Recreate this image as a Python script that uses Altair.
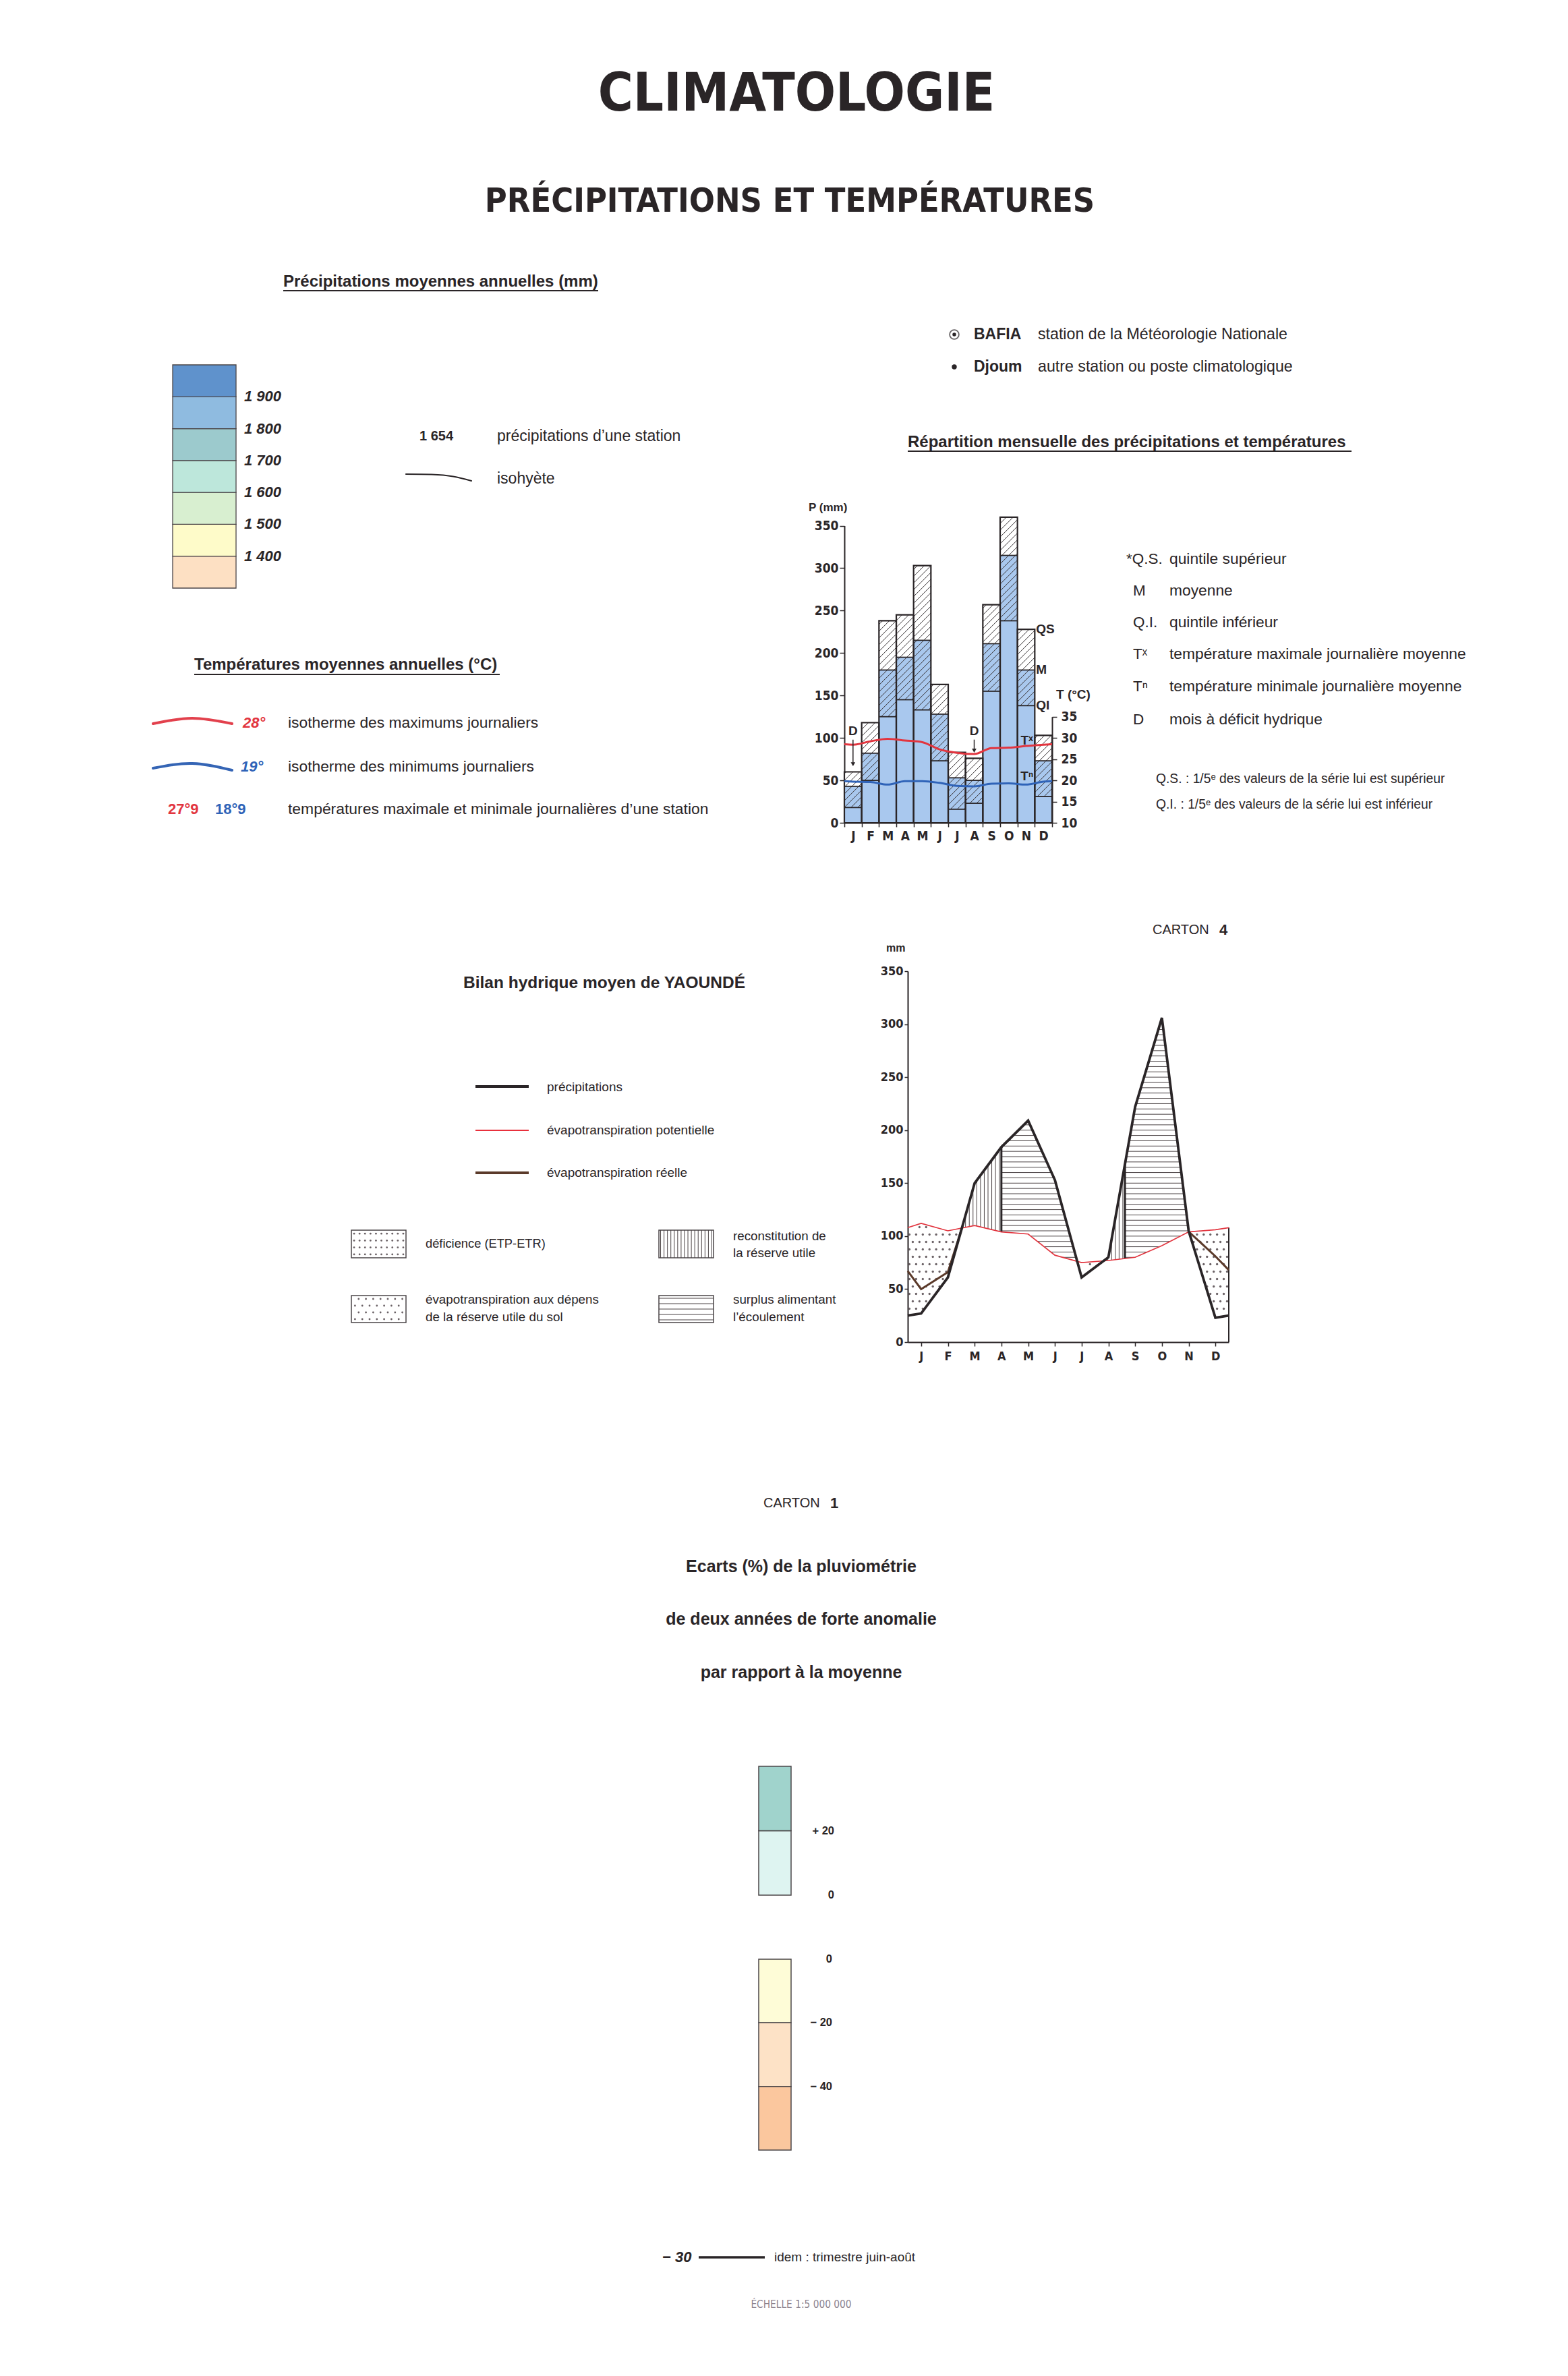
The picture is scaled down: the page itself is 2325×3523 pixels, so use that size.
import math
import numpy as np
import pandas as pd
import altair as alt

# ===================== DATA =====================
MONTHS = list(range(1, 13))
MONTH_LETTERS = ["J", "F", "M", "A", "M", "J", "J", "A", "S", "O", "N", "D"]

# Monthly precipitation distribution (mm): upper quintile, mean, lower quintile
P_QS = [60, 118, 238, 245, 303, 163, 83, 76, 257, 360, 228, 103]
P_MEAN = [43, 82, 180, 195, 215, 128, 53, 50, 211, 315, 180, 73]
P_QI = [18, 50, 125, 145, 133, 73, 16, 23, 155, 238, 138, 31]
# mean daily maximum / minimum temperature (deg C)
T_MAX = [28.4, 29.2, 29.8, 29.4, 29.0, 27.3, 26.5, 26.2, 27.6, 27.7, 28.1, 28.4]
T_MIN = [19.7, 19.6, 19.0, 19.8, 19.8, 19.4, 18.7, 18.6, 19.2, 19.3, 19.0, 19.7]
T_MAX_EDGES = [28.5, 28.5]
T_MIN_EDGES = [19.8, 19.8]
DEFICIT_MONTHS = [1, 8]

# Water balance of Yaounde (mm)
YAO_P = [27, 61, 150, 184, 209, 153, 61, 80, 222, 306, 105, 23]
YAO_ETP = [112, 105, 110, 104, 102, 82, 75, 77, 80, 91, 104, 106]
YAO_P_EDGES = [25, 25]
YAO_ETP_EDGES = [108, 108]
YAO_ETR_MONTHS = [1, 2, 12]
YAO_ETR = [50, 66, 81]
YAO_ETR_EDGES = [67, 68]
YAO_RESERVE_FULL = [4.0, 8.62]

# Colour legends
PRECIP_BOUNDS = [1400, 1500, 1600, 1700, 1800, 1900]
PRECIP_LABELS = ["1 400", "1 500", "1 600", "1 700", "1 800", "1 900"]
PRECIP_COLORS = ["#fde0c3", "#fefbc9", "#d8efd0", "#bde7db", "#9ccacd", "#8fbbe0", "#5f92cc"]
DEV_POS_BOUNDS = [0, 20]
DEV_POS_LABELS = ["0", "+ 20"]
DEV_POS_COLORS = ["#def4f1", "#a0d3cc"]
DEV_NEG_BOUNDS = [0, -20, -40]
DEV_NEG_LABELS = ["0", "\u2212 20", "\u2212 40"]
DEV_NEG_COLORS = ["#fefcd7", "#fde2c6", "#fbc79e"]

# Texts
TITLE = "CLIMATOLOGIE"
SUBTITLE = "PRÉCIPITATIONS ET TEMPÉRATURES"
HEAD_PRECIP = "Précipitations moyennes annuelles (mm)"
HEAD_TEMP = "Températures moyennes annuelles (°C)"
HEAD_MONTHLY = "Répartition mensuelle des précipitations et températures"
STATION_VALUE = "1 654"
STATION_VALUE_TXT = "précipitations d\u2019une station"
ISOHYET_TXT = "isohyète"
ISOTHERM_VALUES = ["28°", "19°"]
ISOTHERM_TXT = ["isotherme des maximums journaliers", "isotherme des minimums journaliers"]
STATION_TEMPS = ["27°9", "18°9"]
STATION_TEMPS_TXT = "températures maximale et minimale journalières d\u2019une station"
STATION_NAMES = ["BAFIA", "Djoum"]
STATION_TXT = ["station de la Météorologie Nationale", "autre station ou poste climatologique"]
ABBREV = ["*Q.S.", "M", "Q.I.", "T\u02e3", "T\u207f", "D"]
ABBREV_TXT = ["quintile supérieur", "moyenne", "quintile inférieur",
              "température maximale journalière moyenne",
              "température minimale journalière moyenne", "mois à déficit hydrique"]
NOTES = ["Q.S. : 1/5\u1d49 des valeurs de la série lui est supérieur",
         "Q.I. : 1/5\u1d49 des valeurs de la série lui est inférieur"]
BAR_LABELS = ["QS", "M", "QI"]
T_LABELS = ["T\u02e3", "T\u207f"]
AXIS_P = "P (mm)"
AXIS_T = "T (°C)"
CARTON = "CARTON"
CARTON_NUMS = ["4", "1"]
BILAN_TITLE = "Bilan hydrique moyen de YAOUNDÉ"
BILAN_LINES = ["précipitations", "évapotranspiration potentielle", "évapotranspiration réelle"]
BILAN_BOXES = [["déficience (ETP-ETR)"], ["évapotranspiration aux dépens", "de la réserve utile du sol"],
               ["reconstitution de", "la réserve utile"], ["surplus alimentant", "l\u2019écoulement"]]
MM = "mm"
CARTON1_TITLE = ["Ecarts (%) de la pluviométrie", "de deux années de forte anomalie", "par rapport à la moyenne"]
ISO30_VALUE = "\u2212 30"
ISO30_TXT = "idem : trimestre juin-août"
SCALE_TXT = "ÉCHELLE 1:5 000 000"

# ===================== LAYOUT / STYLE =====================
W, H = 2309, 3507
SANS = "Liberation Sans, Arial, Helvetica, sans-serif"
NARROW = "Liberation Sans Narrow, DejaVu Sans Condensed, Liberation Sans, sans-serif"
INK = "#2a2527"
RED = "#e2353f"
BLUE = "#2f63b8"
BAR_BLUE = "#a9c8ee"
HATCH = "#3a3537"


def cx(v):
    return v - 8


def cy(v):
    return v - 8


layers = []


def text(s, x, y, size, weight="normal", color=INK, align="left", font=SANS, style="normal"):
    layers.append(alt.Chart(alt.Data(values=[{"t": s}])).mark_text(
        font=font, fontSize=size, fontWeight=weight, fontStyle=style, color=color,
        align=align, baseline="middle").encode(
        x=alt.value(cx(x)), y=alt.value(cy(y)), text=alt.Text("t:N")))


def rule(x1, y1, x2, y2, color=INK, width=2.0):
    layers.append(alt.Chart(alt.Data(values=[{"k": 0}])).mark_rule(color=color, strokeWidth=width).encode(
        x=alt.value(cx(x1)), y=alt.value(cy(y1)), x2=alt.value(cx(x2)), y2=alt.value(cy(y2))))


def glyph(xs, ys, color, width):
    df = pd.DataFrame({"x": [cx(v) for v in xs], "y": [cy(v) for v in ys], "o": list(range(len(xs)))})
    layers.append(alt.Chart(df).mark_line(color=color, strokeWidth=width, interpolate="natural",
                                          strokeCap="round").encode(
        x=alt.X("x:Q", scale=None, axis=None), y=alt.Y("y:Q", scale=None, axis=None), order="o:Q"))


def lin(domain, rng):
    return alt.Scale(domain=list(domain), range=list(rng), nice=False, zero=False)


def axis(orient, offset, values, labels=True, ticks=True, domain=True, label_expr=None,
         size=18, tick_size=7, pad=3, font=NARROW):
    kw = dict(orient=orient, offset=offset, values=values, labels=labels, ticks=ticks, domain=domain,
              tickSize=tick_size, labelPadding=pad, labelFont=font, labelFontSize=size,
              labelFontWeight="bold", labelColor=INK, domainColor=INK, tickColor=INK,
              domainWidth=2, tickWidth=1.5, grid=False, title=None, labelFlush=False,
              labelOverlap=False, labelBound=False)
    if label_expr:
        kw["labelExpr"] = label_expr
    return alt.Axis(**kw)


month_expr = "[" + ",".join("'%s'" % l for l in MONTH_LETTERS) + "][round(datum.value)-1]"

# ===================== TITLES =====================
text(TITLE, 1181, 140, 79, "bold", font=NARROW, align="center")
text(SUBTITLE, 1171, 299, 50, "bold", font=NARROW, align="center")

# ===================== LEFT: annual precipitation legend =====================
text(HEAD_PRECIP, 420, 418, 24, "bold")
rule(420, 431, 887, 431, INK, 2)

lows = [PRECIP_BOUNDS[0] - 100] + PRECIP_BOUNDS
highs = PRECIP_BOUNDS + [PRECIP_BOUNDS[-1] + 100]
pr_df = pd.DataFrame({"lo": lows, "hi": highs, "c": PRECIP_COLORS})
pr_scale = lin([lows[0], highs[-1]], [cy(872), cy(541)])
layers.append(alt.Chart(pr_df).mark_rect(stroke="#4b4648", strokeWidth=1.3).encode(
    x=alt.value(cx(256)), x2=alt.value(cx(350)),
    y=alt.Y("hi:Q", scale=pr_scale, axis=None), y2="lo",
    fill=alt.Fill("c:N", scale=None, legend=None)))
prl_df = pd.DataFrame({"b": PRECIP_BOUNDS, "lab": PRECIP_LABELS})
layers.append(alt.Chart(prl_df).mark_text(font=SANS, fontSize=22, fontWeight="bold", fontStyle="italic",
                                          color=INK, align="left", baseline="middle").encode(
    x=alt.value(cx(362)), y=alt.Y("b:Q", scale=pr_scale, axis=None), text="lab:N"))

text(STATION_VALUE, 622, 647, 20, "bold")
text(STATION_VALUE_TXT, 737, 647, 23)
glyph([602, 640, 672, 699], [703, 703.5, 706.5, 713], INK, 2.2)
text(ISOHYET_TXT, 737, 710, 23)

# ===================== LEFT: temperature legend =====================
text(HEAD_TEMP, 288, 986, 24, "bold")
rule(288, 1000, 741, 1000, INK, 2)
glyph([227, 285, 344], [1073, 1065, 1073], "#e2404c", 4)
text(ISOTHERM_VALUES[0], 360, 1072, 22, "bold", color=RED, style="italic")
text(ISOTHERM_TXT[0], 427, 1072, 22.8)
glyph([227, 285, 344], [1139, 1132, 1142], "#3565b5", 4)
text(ISOTHERM_VALUES[1], 357, 1137, 22, "bold", color=BLUE, style="italic")
text(ISOTHERM_TXT[1], 427, 1137, 22.8)
text(STATION_TEMPS[0], 249, 1200, 22, "bold", color=RED)
text(STATION_TEMPS[1], 319, 1200, 22, "bold", color=BLUE)
text(STATION_TEMPS_TXT, 427, 1200, 22.9)

# ===================== RIGHT: stations =====================
layers.append(alt.Chart(alt.Data(values=[{"k": 0}])).mark_point(
    shape="circle", filled=False, size=190, stroke=INK, strokeWidth=1.8).encode(
    x=alt.value(cx(1415)), y=alt.value(cy(496))))
layers.append(alt.Chart(alt.Data(values=[{"k": 0}])).mark_point(
    shape="circle", filled=True, size=30, color=INK, opacity=1).encode(
    x=alt.value(cx(1415)), y=alt.value(cy(496))))
layers.append(alt.Chart(alt.Data(values=[{"k": 0}])).mark_point(
    shape="circle", filled=True, size=55, color=INK, opacity=1).encode(
    x=alt.value(cx(1415)), y=alt.value(cy(544))))
text(STATION_NAMES[0], 1444, 496, 23, "bold")
text(STATION_TXT[0], 1539, 496, 23.2)
text(STATION_NAMES[1], 1444, 544, 23, "bold")
text(STATION_TXT[1], 1539, 544, 23.2)

text(HEAD_MONTHLY, 1346, 656, 24, "bold")
rule(1346, 669, 2004, 669, INK, 2)

# ===================== MONTHLY BAR CHART =====================
BAR_L, BAR_R = 1252, 1560
BAR_Y0, BAR_Y350 = 1220, 779.5
T_TOP = BAR_Y0 - 125 * (BAR_Y0 - BAR_Y350) / 350


def bx():
    return lin([0.5, 12.5], [cx(BAR_L), cx(BAR_R)])


def by():
    return lin([0, 350], [cy(BAR_Y0), cy(BAR_Y350)])


def bt():
    return lin([10, 35], [cy(BAR_Y0), cy(T_TOP)])


bar_df = pd.DataFrame({"m": MONTHS, "qs": P_QS, "mean": P_MEAN, "qi": P_QI})
bar_df["x0"] = bar_df["m"] - 0.5
bar_df["x1"] = bar_df["m"] + 0.5
bar_df["z"] = 0.0

# hatch pattern (45 deg on screen) over the [QI, QS] part of each bar
px_m = (BAR_R - BAR_L) / 12.0
px_mm = (BAR_Y0 - BAR_Y350) / 350.0
slope = px_m / px_mm
gap = 10.0 / px_mm
hatch = []
for m, lo, hi in zip(MONTHS, P_QI, P_QS):
    a, b = m - 0.5, m + 0.5
    kmin = math.ceil((lo - slope * b) / gap)
    kmax = math.floor((hi - slope * a) / gap)
    for k in range(kmin, kmax + 1):
        c = k * gap
        xa = max(a, (lo - c) / slope)
        xb = min(b, (hi - c) / slope)
        if xb - xa > 1e-6:
            hatch.append({"x": xa, "y": c + slope * xa, "x2": xb, "y2": c + slope * xb})
hatch_df = pd.DataFrame(hatch)

layers.append(alt.Chart(bar_df).mark_rect(fill="white", strokeWidth=0).encode(
    x=alt.X("x0:Q", scale=bx(), axis=axis("bottom", cy(BAR_Y0) - H, [0.5 + i for i in range(13)],
                                          labels=False, tick_size=6)),
    x2="x1",
    y=alt.Y("qs:Q", scale=by(), axis=axis("left", -cx(BAR_L), list(range(0, 351, 50)), size=19, pad=2)),
    y2="z"))
layers.append(alt.Chart(bar_df).mark_rect(fill=BAR_BLUE, strokeWidth=0).encode(
    x=alt.X("x0:Q", scale=bx(), axis=axis("bottom", cy(BAR_Y0) - H, MONTHS, ticks=False, domain=False,
                                          label_expr=month_expr, size=19, tick_size=0, pad=10)),
    x2="x1", y=alt.Y("mean:Q", scale=by(), axis=None), y2="z"))
layers.append(alt.Chart(hatch_df).mark_rule(color=HATCH, strokeWidth=1).encode(
    x=alt.X("x:Q", scale=bx(), axis=None), y=alt.Y("y:Q", scale=by(), axis=None), x2="x2", y2="y2"))
for col in ["mean", "qi"]:
    layers.append(alt.Chart(bar_df).mark_rule(color=INK, strokeWidth=1.8).encode(
        x=alt.X("x0:Q", scale=bx(), axis=None), x2="x1", y=alt.Y(col + ":Q", scale=by(), axis=None)))
layers.append(alt.Chart(bar_df).mark_rect(fill="white", fillOpacity=0, stroke=INK, strokeWidth=2.2).encode(
    x=alt.X("x0:Q", scale=bx(), axis=None), x2="x1", y=alt.Y("qs:Q", scale=by(), axis=None), y2="z"))

t_x = [0.5] + MONTHS + [12.5]
tmax_df = pd.DataFrame({"x": t_x, "t": [T_MAX_EDGES[0]] + T_MAX + [T_MAX_EDGES[1]]})
tmin_df = pd.DataFrame({"x": t_x, "t": [T_MIN_EDGES[0]] + T_MIN + [T_MIN_EDGES[1]]})
layers.append(alt.Chart(tmax_df).mark_line(color=RED, strokeWidth=3, interpolate="monotone").encode(
    x=alt.X("x:Q", scale=bx(), axis=None),
    y=alt.Y("t:Q", scale=bt(), axis=axis("right", cx(BAR_R) - W, list(range(10, 36, 5)), size=19, pad=6))))
layers.append(alt.Chart(tmin_df).mark_line(color=BLUE, strokeWidth=3, interpolate="monotone").encode(
    x=alt.X("x:Q", scale=bx(), axis=None), y=alt.Y("t:Q", scale=bt(), axis=None)))

d_df = pd.DataFrame({"m": DEFICIT_MONTHS, "qs": [P_QS[m - 1] for m in DEFICIT_MONTHS]})
d_df["lab"] = "D"
d_df["ytxt"] = 108.0
d_df["ytop"] = 98.0
d_df["ytip"] = d_df["qs"] + 9.0
layers.append(alt.Chart(d_df).mark_text(font=SANS, fontSize=19, fontWeight="bold", color=INK,
                                        baseline="middle").encode(
    x=alt.X("m:Q", scale=bx(), axis=None), y=alt.Y("ytxt:Q", scale=by(), axis=None), text="lab:N"))
layers.append(alt.Chart(d_df).mark_rule(color=INK, strokeWidth=1.5).encode(
    x=alt.X("m:Q", scale=bx(), axis=None), y=alt.Y("ytop:Q", scale=by(), axis=None), y2="ytip"))
layers.append(alt.Chart(d_df).mark_point(shape="triangle-down", filled=True, size=45, color=INK, opacity=1).encode(
    x=alt.X("m:Q", scale=bx(), axis=None), y=alt.Y("ytip:Q", scale=by(), axis=None)))

NOV = 10
ql_df = pd.DataFrame({"lab": BAR_LABELS, "v": [P_QS[NOV], P_MEAN[NOV], P_QI[NOV]], "x": [NOV + 1.5] * 3})
layers.append(alt.Chart(ql_df).mark_text(font=SANS, fontSize=19, fontWeight="bold", color=INK,
                                         align="left", baseline="middle", dx=2).encode(
    x=alt.X("x:Q", scale=bx(), axis=None), y=alt.Y("v:Q", scale=by(), axis=None), text="lab:N"))
tl_df = pd.DataFrame({"lab": T_LABELS, "t": [29.4, 20.9], "x": [11.05, 11.05]})
layers.append(alt.Chart(tl_df).mark_text(font=SANS, fontSize=19, fontWeight="bold", color=INK,
                                         baseline="middle").encode(
    x=alt.X("x:Q", scale=bx(), axis=None), y=alt.Y("t:Q", scale=bt(), axis=None), text="lab:N"))

text(AXIS_P, 1199, 753, 17, "bold")
text(AXIS_T, 1566, 1030, 19, "bold")

# right-hand legend of the bar chart
ab_y = [829, 876, 923, 970, 1018, 1067]
for i, (ab, tx, yy) in enumerate(zip(ABBREV, ABBREV_TXT, ab_y)):
    text(ab, 1670 if i == 0 else 1680, yy, 22.5)
    text(tx, 1734, yy, 22.8)
text(NOTES[0], 1714, 1155, 19.3)
text(NOTES[1], 1714, 1193, 19.3)

# ===================== WATER BALANCE (CARTON 4) =====================
text(CARTON, 1709, 1379, 20)
text(CARTON_NUMS[0], 1808, 1379, 22, "bold")
text(MM, 1314, 1406, 16, "bold")
text(BILAN_TITLE, 896, 1458, 24.5, "bold", align="center")

YAO_L, YAO_R = 1346, 1822
YAO_Y0, YAO_Y350 = 1990, 1440


def gx():
    return lin([0.5, 12.5], [cx(YAO_L), cx(YAO_R)])


def gy():
    return lin([0, 350], [cy(YAO_Y0), cy(YAO_Y350)])


xs_poly = [0.5] + MONTHS + [12.5]
p_poly = [YAO_P_EDGES[0]] + YAO_P + [YAO_P_EDGES[1]]
e_poly = [YAO_ETP_EDGES[0]] + YAO_ETP + [YAO_ETP_EDGES[1]]


def Pf(x):
    return np.interp(x, xs_poly, p_poly)


def Ef(x):
    return np.interp(x, xs_poly, e_poly)


dd = np.array(p_poly, float) - np.array(e_poly, float)
cross = []
for i in range(len(xs_poly) - 1):
    if dd[i] * dd[i + 1] < 0:
        t = dd[i] / (dd[i] - dd[i + 1])
        cross.append(xs_poly[i] + t * (xs_poly[i + 1] - xs_poly[i]))
c1, c2, c3, c4 = cross[:4]
r1, r2 = YAO_RESERVE_FULL

etr_l_x = [0.5] + [m for m in YAO_ETR_MONTHS if m < 6] + [c1]
etr_l_y = [YAO_ETR_EDGES[0]] + [v for m, v in zip(YAO_ETR_MONTHS, YAO_ETR) if m < 6] + [float(Ef(c1))]
etr_r_x = [c4] + [m for m in YAO_ETR_MONTHS if m >= 6] + [12.5]
etr_r_y = [float(Ef(c4))] + [v for m, v in zip(YAO_ETR_MONTHS, YAO_ETR) if m >= 6] + [YAO_ETR_EDGES[1]]

# surplus: horizontal hatching between ETP and P
hseg = []
for (a, b) in [(r1, c2), (r2, c4)]:
    xx = np.linspace(a, b, 4001)
    pp, ee = Pf(xx), Ef(xx)
    for yv in np.arange(5.0, 350, 5.0):
        mask = (pp > yv) & (ee < yv)
        edges = np.flatnonzero(np.diff(np.concatenate([[0], mask.astype(int), [0]])))
        for s, e in zip(edges[::2], edges[1::2]):
            hseg.append({"x": float(xx[s]), "x2": float(xx[e - 1]), "y": float(yv)})
# reconstitution: vertical hatching between ETP and P
vseg = []
VSTEP = 0.14
for (a, b) in [(c1, r1), (c3, r2)]:
    for xv in np.arange(math.ceil(a / VSTEP) * VSTEP, b, VSTEP):
        lo, hi = float(Ef(xv)), float(Pf(xv))
        if hi > lo:
            vseg.append({"x": float(xv), "y": lo, "y2": hi})
# deficit: stippling between P and ETP
dots = []
DDX, DDY = 0.25, 7.0
for j, yv in enumerate(np.arange(DDY / 2, 350, DDY)):
    shift = (j % 2) * DDX / 2
    for xv in np.arange(0.5 + DDX / 4 + shift, 12.5, DDX):
        if not (xv < c1 or c2 < xv < c3 or xv > c4):
            continue
        if Pf(xv) + 2 < yv < Ef(xv) - 2:
            dots.append({"x": float(xv), "y": float(yv)})

layers.append(alt.Chart(pd.DataFrame(dots)).mark_circle(size=11, color="#6b6266", opacity=1).encode(
    x=alt.X("x:Q", scale=gx(), axis=None), y=alt.Y("y:Q", scale=gy(), axis=None)))
layers.append(alt.Chart(pd.DataFrame(hseg)).mark_rule(color="#4a4244", strokeWidth=1).encode(
    x=alt.X("x:Q", scale=gx(), axis=None), x2="x2", y=alt.Y("y:Q", scale=gy(), axis=None)))
layers.append(alt.Chart(pd.DataFrame(vseg)).mark_rule(color="#4a4244", strokeWidth=1).encode(
    x=alt.X("x:Q", scale=gx(), axis=None), y=alt.Y("y:Q", scale=gy(), axis=None), y2="y2"))
sep_df = pd.DataFrame({"x": [r1, r2], "y": [float(Ef(r1)), float(Ef(r2))], "y2": [float(Pf(r1)), float(Pf(r2))]})
layers.append(alt.Chart(sep_df).mark_rule(color=INK, strokeWidth=3).encode(
    x=alt.X("x:Q", scale=gx(), axis=None), y=alt.Y("y:Q", scale=gy(), axis=None), y2="y2"))
edge_df = pd.DataFrame({"x": [12.5], "y": [0.0], "y2": [float(YAO_ETP_EDGES[1])]})
layers.append(alt.Chart(edge_df).mark_rule(color=INK, strokeWidth=2).encode(
    x=alt.X("x:Q", scale=gx(), axis=None), y=alt.Y("y:Q", scale=gy(), axis=None), y2="y2"))

etp_df = pd.DataFrame({"x": xs_poly, "v": e_poly})
layers.append(alt.Chart(etp_df).mark_line(color=RED, strokeWidth=1.7).encode(
    x=alt.X("x:Q", scale=gx(), axis=None), y=alt.Y("v:Q", scale=gy(), axis=None)))
etr_df = pd.DataFrame({"x": etr_l_x + etr_r_x, "v": etr_l_y + etr_r_y,
                       "g": ["a"] * len(etr_l_x) + ["b"] * len(etr_r_x)})
layers.append(alt.Chart(etr_df).mark_line(color="#5b3a2a", strokeWidth=3).encode(
    x=alt.X("x:Q", scale=gx(), axis=None), y=alt.Y("v:Q", scale=gy(), axis=None), detail="g:N"))
p_df = pd.DataFrame({"x": xs_poly, "v": p_poly})
layers.append(alt.Chart(p_df).mark_line(color=INK, strokeWidth=3.8, strokeJoin="miter").encode(
    x=alt.X("x:Q", scale=gx(), axis=axis("bottom", cy(YAO_Y0) - H, MONTHS, label_expr=month_expr,
                                         size=18, tick_size=6, pad=6)),
    y=alt.Y("v:Q", scale=gy(), axis=axis("left", -cx(YAO_L), list(range(0, 351, 50)), size=18,
                                         tick_size=5, pad=2))))

# legend of the water balance
rule(705, 1611, 784, 1611, INK, 4)
rule(705, 1676, 784, 1676, "#e8303c", 2)
rule(705, 1739, 784, 1739, "#5b3a2a", 4)
text(BILAN_LINES[0], 811, 1612, 19)
text(BILAN_LINES[1], 811, 1676, 19)
text(BILAN_LINES[2], 811, 1739, 19)

boxes = [(521, 602, 1824, 1865), (521, 602, 1921, 1961), (977, 1058, 1824, 1865), (977, 1058, 1921, 1961)]


def box_scale_x(b):
    return lin([0, 1], [cx(b[0]), cx(b[1])])


def box_scale_y(b):
    return lin([0, 1], [cy(b[3]), cy(b[2])])


# stipple boxes
for bi, (ncol, nrow) in [(0, (10, 4)), (1, (7, 4))]:
    b = boxes[bi]
    pts = []
    for r in range(nrow):
        for c in range(ncol):
            off = 0.5 * (r % 2)
            pts.append({"x": (c + 0.5 + off * (bi == 1)) / (ncol + 0.5 * (bi == 1)),
                        "y": (r + 0.5) / nrow})
    layers.append(alt.Chart(pd.DataFrame(pts)).mark_circle(size=8, color="#6b6266", opacity=1).encode(
        x=alt.X("x:Q", scale=box_scale_x(b), axis=None), y=alt.Y("y:Q", scale=box_scale_y(b), axis=None)))
# vertical lines box
b = boxes[2]
vl = pd.DataFrame({"x": [(i + 0.5) / 16 for i in range(16)], "y": [0.0] * 16, "y2": [1.0] * 16})
layers.append(alt.Chart(vl).mark_rule(color="#4a4244", strokeWidth=1).encode(
    x=alt.X("x:Q", scale=box_scale_x(b), axis=None), y=alt.Y("y:Q", scale=box_scale_y(b), axis=None), y2="y2"))
# horizontal lines box
b = boxes[3]
hl = pd.DataFrame({"y": [(i + 0.5) / 5 for i in range(5)], "x": [0.0] * 5, "x2": [1.0] * 5})
layers.append(alt.Chart(hl).mark_rule(color="#4a4244", strokeWidth=1).encode(
    x=alt.X("x:Q", scale=box_scale_x(b), axis=None), x2="x2", y=alt.Y("y:Q", scale=box_scale_y(b), axis=None)))
for b in boxes:
    layers.append(alt.Chart(alt.Data(values=[{"k": 0}])).mark_rect(
        fill="white", fillOpacity=0, stroke="#4b4648", strokeWidth=1.5).encode(
        x=alt.value(cx(b[0])), x2=alt.value(cx(b[1])), y=alt.value(cy(b[2])), y2=alt.value(cy(b[3]))))

text(BILAN_BOXES[0][0], 631, 1845, 18.3)
text(BILAN_BOXES[1][0], 631, 1927, 18.8)
text(BILAN_BOXES[1][1], 631, 1953, 18.8)
text(BILAN_BOXES[2][0], 1087, 1833, 18.8)
text(BILAN_BOXES[2][1], 1087, 1858, 18.8)
text(BILAN_BOXES[3][0], 1087, 1927, 18.8)
text(BILAN_BOXES[3][1], 1087, 1953, 18.8)

# ===================== CARTON 1 =====================
text(CARTON, 1132, 2229, 20)
text(CARTON_NUMS[1], 1231, 2229, 22, "bold")
for line, yy in zip(CARTON1_TITLE, [2323, 2401, 2480]):
    text(line, 1188, yy, 25, "bold", align="center")

pos_df = pd.DataFrame({"lo": [0, 20], "hi": [20, 40], "c": DEV_POS_COLORS})
pos_scale = lin([0, 40], [cy(2810), cy(2619)])
layers.append(alt.Chart(pos_df).mark_rect(stroke="#4b4648", strokeWidth=1.5).encode(
    x=alt.value(cx(1125)), x2=alt.value(cx(1173)),
    y=alt.Y("hi:Q", scale=pos_scale, axis=None), y2="lo", fill=alt.Fill("c:N", scale=None, legend=None)))
layers.append(alt.Chart(pd.DataFrame({"b": DEV_POS_BOUNDS, "lab": DEV_POS_LABELS})).mark_text(
    font=SANS, fontSize=16.5, fontWeight="bold", color=INK, align="right", baseline="middle").encode(
    x=alt.value(cx(1237)), y=alt.Y("b:Q", scale=pos_scale, axis=None), text="lab:N"))

neg_df = pd.DataFrame({"lo": [-20, -40, -60], "hi": [0, -20, -40], "c": DEV_NEG_COLORS})
neg_scale = lin([-60, 0], [cy(3188), cy(2905)])
layers.append(alt.Chart(neg_df).mark_rect(stroke="#4b4648", strokeWidth=1.5).encode(
    x=alt.value(cx(1125)), x2=alt.value(cx(1173)),
    y=alt.Y("hi:Q", scale=neg_scale, axis=None), y2="lo", fill=alt.Fill("c:N", scale=None, legend=None)))
layers.append(alt.Chart(pd.DataFrame({"b": DEV_NEG_BOUNDS, "lab": DEV_NEG_LABELS})).mark_text(
    font=SANS, fontSize=16.5, fontWeight="bold", color=INK, align="right", baseline="middle").encode(
    x=alt.value(cx(1234)), y=alt.Y("b:Q", scale=neg_scale, axis=None), text="lab:N"))

# ===================== FOOT =====================
text(ISO30_VALUE, 982, 3347, 22, "bold", style="italic")
rule(1036, 3347, 1134, 3347, INK, 3.5)
text(ISO30_TXT, 1148, 3347, 19)
text(SCALE_TXT, 1188, 3417, 15.3, color="#8d8490", font=NARROW, align="center")

# ===================== ASSEMBLE =====================
chart = alt.layer(*layers).resolve_scale(x="independent", y="independent").properties(
    width=W, height=H, padding=0, background="white",
    autosize=alt.AutoSizeParams(type="none"),
).configure_view(strokeWidth=0)

chart.save("out.html", embed_options={"renderer": "svg", "actions": False})
